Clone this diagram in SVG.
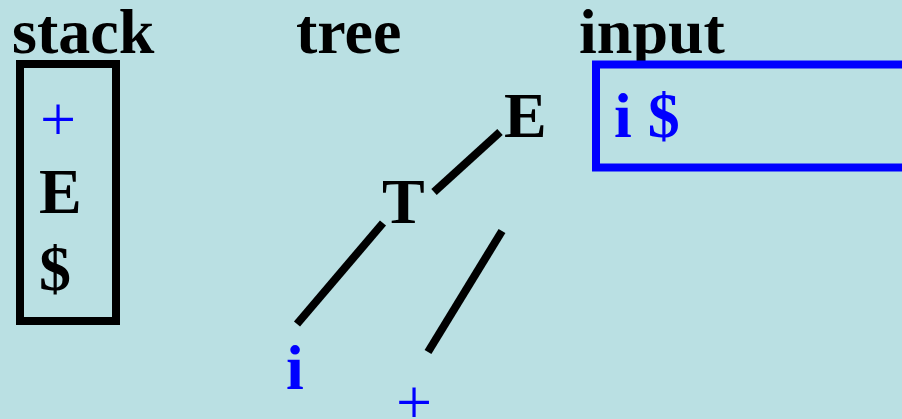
<svg xmlns="http://www.w3.org/2000/svg" width="902" height="419" viewBox="0 0 902 419">
<style>
text{font-family:"Liberation Serif","Times New Roman",serif;font-size:64px}
.b{font-weight:bold}
.k{fill:#000}
.bl{fill:#0000FF}
.edge{stroke:#000;stroke-width:8;fill:none}
</style>
<rect x="0" y="0" width="902" height="419" fill="#BAE0E3"/>
<g id="titles">
<text class="b k" x="12" y="53">stack</text>
<text class="b k" x="296" y="53">tree</text>
<text class="b k" x="579" y="53">input</text>
</g>
<g id="stack">
<rect x="20" y="64" width="96" height="257" fill="none" stroke="#000" stroke-width="8"/>
<text class="bl" x="40" y="141">+</text>
<text class="b k" x="39" y="213">E</text>
<text class="b k" x="39" y="290">$</text>
</g>
<g id="input">
<rect x="596" y="64.5" width="400" height="103" fill="none" stroke="#0000FF" stroke-width="8"/>
<text class="b bl" x="614" y="137">i $</text>
</g>
<g id="node-E"><text class="b k" x="504" y="137">E</text></g>
<g id="node-T"><text class="b k" x="382" y="223">T</text></g>
<g id="node-i"><text class="b bl" x="286" y="389">i</text></g>
<g id="node-plus"><text class="bl" x="396" y="424">+</text></g>
<g id="connectors">
<line class="edge" x1="500" y1="132" x2="434" y2="192"/>
<line class="edge" x1="383" y1="223" x2="297" y2="324"/>
<line class="edge" x1="502" y1="231" x2="428" y2="352"/>
</g>
</svg>
